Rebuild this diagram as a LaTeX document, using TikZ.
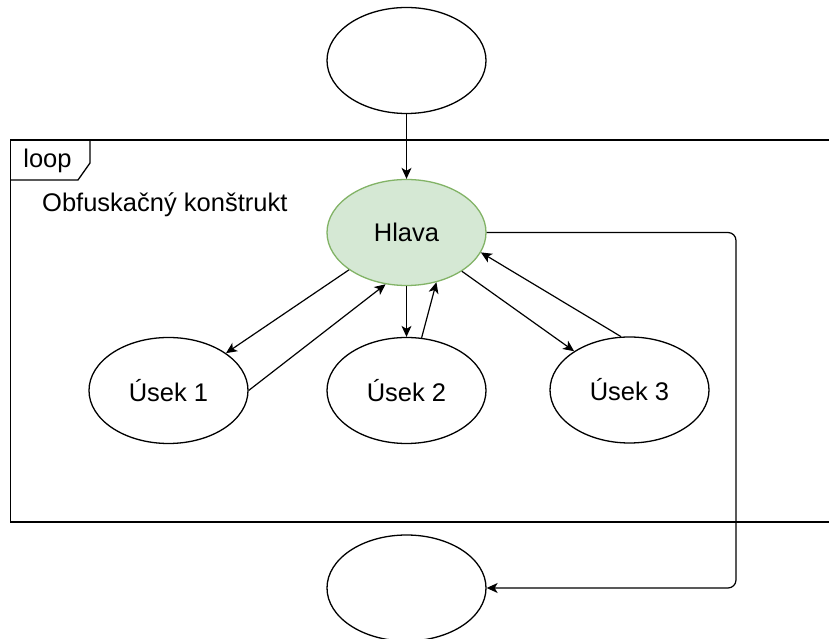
\documentclass[tikz,border=0pt]{standalone}
\usepackage{fontspec}
\setmainfont{Liberation Sans}
\usetikzlibrary{arrows.meta,shapes.geometric}
\definecolor{headfill}{HTML}{D5E8D4}
\definecolor{headline}{HTML}{82B366}

\begin{document}
\begin{tikzpicture}[x=1pt,y=1pt,
  blob/.style={ellipse, draw=black, fill=white, line width=1.3pt,
    minimum width=159pt, minimum height=106pt, inner sep=0pt,
    font=\fontsize{25.5}{30}\selectfont},
  head/.style={blob, draw=headline, fill=headfill},
  link/.style={line width=1.2pt, -{Stealth[length=11pt,width=10pt,inset=3pt]}},
  frameline/.style={line width=1.3pt},
  lbl/.style={font=\fontsize{25.5}{30}\selectfont, inner sep=0pt}]

\useasboundingbox[fill=white] (0,0) rectangle (829,639);

% loop frame (open to the right) and its name tab
\draw[frameline] (829,499) -- (10.5,499) -- (10.5,117) -- (829,117);
\draw[frameline] (90,499) -- (90,476) -- (78,459) -- (10.5,459);
\node[lbl, anchor=base] (looplbl) at (47.5,471) {loop};
\node[lbl, anchor=base west] (title) at (42,427) {Obfuskačný konštrukt};

% states
\node[blob] (start) at (406.5,578.5) {};
\node[head] (hlava) at (406.5,406.5) {Hlava};
\node[blob] (u1) at (168.5,248.5) {Úsek 1};
\node[blob] (u2) at (406.5,248.5) {Úsek 2};
\node[blob] (u3) at (629.5,249) {Úsek 3};
\node[blob] (end) at (406.5,51) {};

% transitions
\draw[link] (start) -- (hlava);
\draw[link] (hlava.213) -- (u1.33);
\draw[link] (u1.east) -- (hlava.248);
\draw[link] (hlava.south) -- (u2.north);
\draw[link] (u2.74) -- (hlava.301);
\draw[link] (hlava.325) -- (u3.145);
\draw[link] (u3.99.5) -- (hlava.345);
\coordinate (turn) at (736,0);
\draw[link, rounded corners=8pt] (hlava.east) -| (turn |- end.east) -- (end.east);
\end{tikzpicture}
\end{document}
